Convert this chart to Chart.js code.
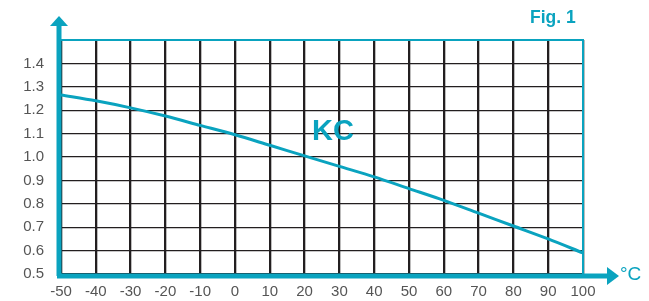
<!DOCTYPE html>
<html><head><meta charset="utf-8">
<script src="https://cdn.jsdelivr.net/npm/chart.js@4/dist/chart.umd.min.js"></script>
<style>
html,body{margin:0;padding:0;background:#fff;}
#wrap{position:relative;width:649px;height:301px;font-family:"Liberation Sans",Arial,sans-serif;}
canvas{position:absolute;left:0;top:0;}
.lbl{position:absolute;color:#0aa3bf;font-weight:bold;white-space:nowrap;line-height:1;}
</style></head><body>
<div id="wrap">
<canvas id="c" width="649" height="301"></canvas>
<div class="lbl" style="left:530px;top:9px;font-size:17.5px;">Fig. 1</div>
<div class="lbl" style="left:312px;top:116px;font-size:29px;">KC</div>
<div class="lbl" style="left:620px;top:264px;font-size:19px;font-weight:normal;">°C</div>
</div>
<script>
const temperatures = [-50,-40,-30,-20,-10,0,10,20,30,40,50,60,70,80,90,100];
const kcValues = [1.265,1.24,1.21,1.175,1.135,1.095,1.05,1.005,0.96,0.915,0.865,0.815,0.76,0.705,0.65,0.59];
const xTicks = [-50,-40,-30,-20,-10,0,10,20,30,40,50,60,70,80,90,100];
const yTicks = [0.5,0.6,0.7,0.8,0.9,1.0,1.1,1.2,1.3,1.4];

const TEAL = '#0aa3bf';
const GRID = '#231f20';

const axesPlugin = {
  id:'axes',
  afterDraw(chart){
    const ctx = chart.ctx, a = chart.chartArea;
    ctx.save();
    ctx.strokeStyle = TEAL; ctx.fillStyle = TEAL;
    ctx.lineWidth = 2;
    ctx.beginPath();
    ctx.moveTo(a.left, a.top); ctx.lineTo(a.right, a.top); ctx.lineTo(a.right, a.bottom);
    ctx.stroke();
    ctx.lineWidth = 5;
    ctx.beginPath();
    ctx.moveTo(a.left-2, a.bottom+2); ctx.lineTo(a.left-2, 26);
    ctx.stroke();
    ctx.beginPath();
    ctx.moveTo(a.left-2, 16); ctx.lineTo(a.left-11, 26); ctx.lineTo(a.left+7, 26); ctx.closePath();
    ctx.fill();
    ctx.beginPath();
    ctx.moveTo(a.left-4, a.bottom+2); ctx.lineTo(608, a.bottom+2);
    ctx.stroke();
    ctx.beginPath();
    ctx.moveTo(619, a.bottom+2); ctx.lineTo(607, a.bottom-7); ctx.lineTo(607, a.bottom+11); ctx.closePath();
    ctx.fill();
    ctx.restore();
  }
};

new Chart(document.getElementById('c'), {
  type:'line',
  data:{
    datasets:[{
      data: temperatures.map((t,i)=>({x:t,y:kcValues[i]})),
      borderColor: TEAL, borderWidth: 3, pointRadius: 0, tension: 0.3, fill:false
    }]
  },
  options:{
    responsive:false, animation:false,
    layout:{padding:{left:0,top:40,right:66,bottom:0}},
    plugins:{legend:{display:false},tooltip:{enabled:false}},
    scales:{
      x:{
        type:'linear', min:-50, max:100,
        afterFit(s){ s.height = 27; },
        border:{display:false},
        grid:{color:GRID, drawTicks:false,
          lineWidth:(c)=> (Math.round(c.tick.value)%10===0 ? 2.3 : 1)},
        afterBuildTicks(s){ const t=[]; for(let v=-50; v<=100; v+=5) t.push({value:v}); s.ticks=t; },
        ticks:{padding:9, color:'#555', font:{family:'"Liberation Sans", Arial, sans-serif', size:15},
          callback:(v)=> xTicks.includes(Math.round(v)) ? String(Math.round(v)) : null,
          autoSkip:false, maxRotation:0}
      },
      y:{
        min:0.5, max:1.5,
        afterFit(s){ s.width = 61; },
        border:{display:false},
        grid:{color:GRID, lineWidth:1.3, drawTicks:false},
        afterBuildTicks(s){ const t=[]; for(let i=0;i<=10;i++) t.push({value:0.5+i*0.1}); s.ticks=t; },
        ticks:{padding:17, color:'#555', font:{family:'"Liberation Sans", Arial, sans-serif', size:15},
          callback:(v)=>{ const r=Math.round(v*10)/10; return yTicks.some(y=>Math.abs(y-r)<1e-6) ? r.toFixed(1) : null; }}
      }
    }
  },
  plugins:[axesPlugin]
});
</script>
</body></html>
